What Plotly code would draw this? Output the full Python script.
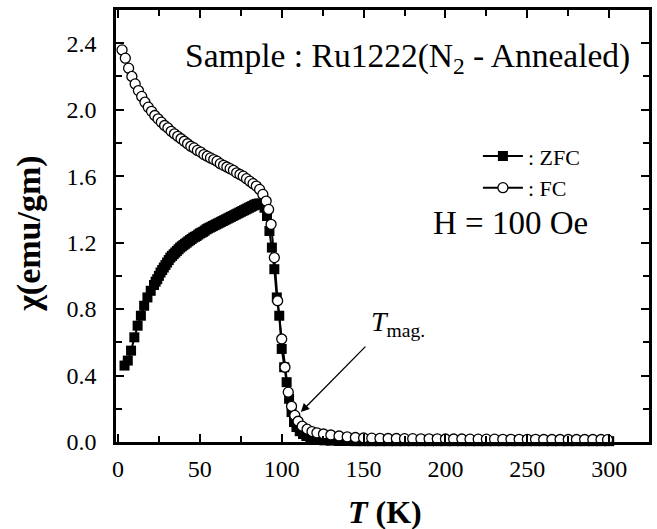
import plotly.graph_objects as go

# ---- data ----
zfc_T = [4, 6, 8, 10, 12, 14, 16, 18, 20, 22,
         23, 24, 25, 26, 27, 28, 29, 30, 31, 32, 33, 34, 35, 36, 37, 38, 39, 40,
         41, 42, 43, 44, 45, 46, 47, 48, 49, 50, 51, 52, 53, 54, 55, 56, 57, 58,
         59, 60, 61, 62, 63, 64, 65, 66, 67, 68, 69, 70, 71, 72, 73, 74, 75, 76,
         77, 78, 79, 80, 81, 82, 83, 84, 85, 86, 87, 88,
         89.5, 91, 92.5, 94, 95.5, 97, 98.5, 100, 101.5, 103,
         104.5, 106, 107.5, 109, 111, 113, 115, 117.5, 120, 123, 126, 130, 135, 140,
         145, 150, 155, 160, 165, 170, 175, 180, 185, 190, 195, 200, 205, 210, 215,
         220, 225, 230, 235, 240, 245, 250, 255, 260, 265, 270, 275, 280, 285, 290,
         295, 300]
zfc_chi = [0.46, 0.49, 0.55, 0.63, 0.70, 0.76, 0.82, 0.87, 0.91, 0.945,
           0.965, 0.98, 1.0, 1.02, 1.035, 1.05, 1.065, 1.08, 1.095, 1.11, 1.12,
           1.13, 1.14, 1.15, 1.16, 1.17, 1.178, 1.185, 1.193, 1.20, 1.208, 1.215,
           1.222, 1.23, 1.235, 1.24, 1.248, 1.255, 1.26, 1.265, 1.272, 1.28, 1.285,
           1.29, 1.295, 1.30, 1.305, 1.31, 1.315, 1.32, 1.325, 1.33, 1.335, 1.34,
           1.345, 1.35, 1.355, 1.36, 1.365, 1.37, 1.375, 1.38, 1.385, 1.39, 1.395,
           1.40, 1.405, 1.41, 1.415, 1.42, 1.425, 1.43, 1.433, 1.435, 1.435, 1.43,
           1.41, 1.36, 1.27, 1.17, 1.04, 0.87, 0.76, 0.56, 0.45, 0.36,
           0.26, 0.18, 0.12, 0.09, 0.065, 0.048, 0.036,
           0.026, 0.019, 0.013, 0.010, 0.008, 0.006, 0.006, 0.005, 0.005, 0.005,
           0.005, 0.005, 0.005, 0.005, 0.005, 0.005, 0.005, 0.005, 0.005, 0.005,
           0.005, 0.005, 0.005, 0.005, 0.005, 0.005, 0.005, 0.005, 0.005, 0.005,
           0.005, 0.005, 0.005, 0.005, 0.005, 0.005, 0.005, 0.005, 0.005]

fc_T = [2.5, 4.5, 6.5, 8.5, 10.5, 12.5, 14.5, 16.5, 18.5, 20.5, 22.5, 24.5, 26.5,
        28.5, 30.5, 32.5, 34.5, 36.5, 38.5, 40.5, 42.5, 44.5, 46.5, 48.5, 50.5,
        52.5, 54.5, 56.5, 58.5, 60.5, 62.5, 64.5, 66.5, 68.5, 70.5, 72.5, 74.5,
        76.5, 78.5, 80.5, 82.5, 84.5, 86.5, 88.5, 90.5, 92, 93.5, 95.5, 97.5, 100,
        102, 104, 106, 108, 110, 112.5, 115.5, 118.5, 121.5, 125.5, 130, 135, 140,
        145, 150, 155, 160, 165, 170, 175, 180, 185, 190, 195, 200, 205, 210, 215,
        220, 225, 230, 235, 240, 245, 250, 255, 260, 265, 270, 275, 280, 285, 290,
        295, 299]
fc_chi = [2.36, 2.31, 2.25, 2.20, 2.155, 2.115, 2.08, 2.045, 2.015, 1.99, 1.965,
          1.945, 1.925, 1.905, 1.89, 1.87, 1.855, 1.84, 1.825, 1.81, 1.795, 1.78,
          1.77, 1.755, 1.745, 1.73, 1.72, 1.71, 1.70, 1.69, 1.675, 1.665, 1.655,
          1.645, 1.635, 1.62, 1.61, 1.60, 1.585, 1.57, 1.555, 1.54, 1.52, 1.49, 1.45,
          1.40, 1.31, 1.11, 0.85, 0.62, 0.45, 0.30, 0.215, 0.16, 0.125, 0.095, 0.077,
          0.063, 0.055, 0.048, 0.042, 0.036, 0.031, 0.027, 0.024, 0.023, 0.022,
          0.021, 0.021, 0.020, 0.020, 0.019, 0.019, 0.019, 0.018, 0.018, 0.018,
          0.017, 0.017, 0.017, 0.017, 0.016, 0.016, 0.016, 0.016, 0.016, 0.015,
          0.015, 0.015, 0.015, 0.015, 0.015, 0.015, 0.015, 0.014]

FONT = "Liberation Serif"

fig = go.Figure()
fig.add_trace(go.Scatter(
    x=zfc_T, y=zfc_chi, mode="lines+markers", name=": ZFC",
    line=dict(color="black", width=2),
    marker=dict(symbol="square", size=10, color="black"),
    cliponaxis=False,
))
fig.add_trace(go.Scatter(
    x=fc_T, y=fc_chi, mode="lines+markers", name=": FC",
    line=dict(color="black", width=2),
    marker=dict(symbol="circle", size=10, color="white",
                line=dict(color="black", width=1.3)),
    cliponaxis=False,
))

axis_common = dict(
    showline=True, linecolor="black", linewidth=2.5, mirror="allticks",
    ticks="inside", ticklen=8, tickwidth=1.5, tickcolor="black",
    showgrid=False, zeroline=False,
    tickfont=dict(family=FONT, size=24, color="black"),
)

fig.update_xaxes(range=[-1.2, 324.3], tickmode="linear", tick0=0, dtick=50,
                 minor=dict(ticks="inside", ticklen=6, tickwidth=1.5,
                            tickcolor="black", dtick=25, tick0=0, showgrid=False),
                 ticklabelstandoff=3, **axis_common)
fig.update_yaxes(range=[0, 2.6], tickmode="linear", tick0=0, dtick=0.4,
                 tickformat=".1f",
                 minor=dict(ticks="inside", ticklen=6, tickwidth=1.5,
                            tickcolor="black", dtick=0.2, tick0=0, showgrid=False),
                 ticklabelstandoff=12, **axis_common)

annotations = [
    dict(text="Sample : Ru1222(N<sub>2</sub> - Annealed)", xref="paper", yref="paper",
         x=0.968, y=0.89, xanchor="right", yanchor="middle", showarrow=False,
         font=dict(family=FONT, size=33.5, color="black")),
    dict(text="H = 100 Oe", xref="paper", yref="paper",
         x=0.741, y=0.507, xanchor="center", yanchor="middle", showarrow=False,
         font=dict(family=FONT, size=33, color="black")),
    dict(text="<i>T</i><sub>mag.</sub>", xref="paper", yref="paper",
         x=0.474, y=0.275, xanchor="left", yanchor="middle", showarrow=False,
         font=dict(family=FONT, size=28, color="black")),
    dict(text="", x=111.7, y=0.18, xref="x", yref="y", showarrow=True,
         ax=66, ay=-67, arrowhead=2, arrowsize=1.3, arrowwidth=1.3,
         arrowcolor="black"),
    dict(text="<b>χ(emu/gm)</b>", xref="paper", yref="paper",
         x=-0.162, y=0.481, xanchor="center", yanchor="middle", textangle=-90,
         showarrow=False, font=dict(family=FONT, size=34, color="black")),
    dict(text="<b><i>T</i> (K)</b>", xref="paper", yref="paper",
         x=0.5056, y=-0.162, xanchor="center", yanchor="middle",
         showarrow=False, font=dict(family=FONT, size=32, color="black")),
]

fig.update_layout(
    width=657, height=529,
    margin=dict(l=116, r=5, t=10, b=87),
    paper_bgcolor="white", plot_bgcolor="white",
    showlegend=True,
    legend=dict(x=0.679, y=0.71, xanchor="left", yanchor="top",
                bgcolor="rgba(0,0,0,0)", borderwidth=0,
                font=dict(family=FONT, size=22, color="black"),
                itemwidth=40, tracegroupgap=0),
    annotations=annotations,
)

fig.write_html("out.html")
